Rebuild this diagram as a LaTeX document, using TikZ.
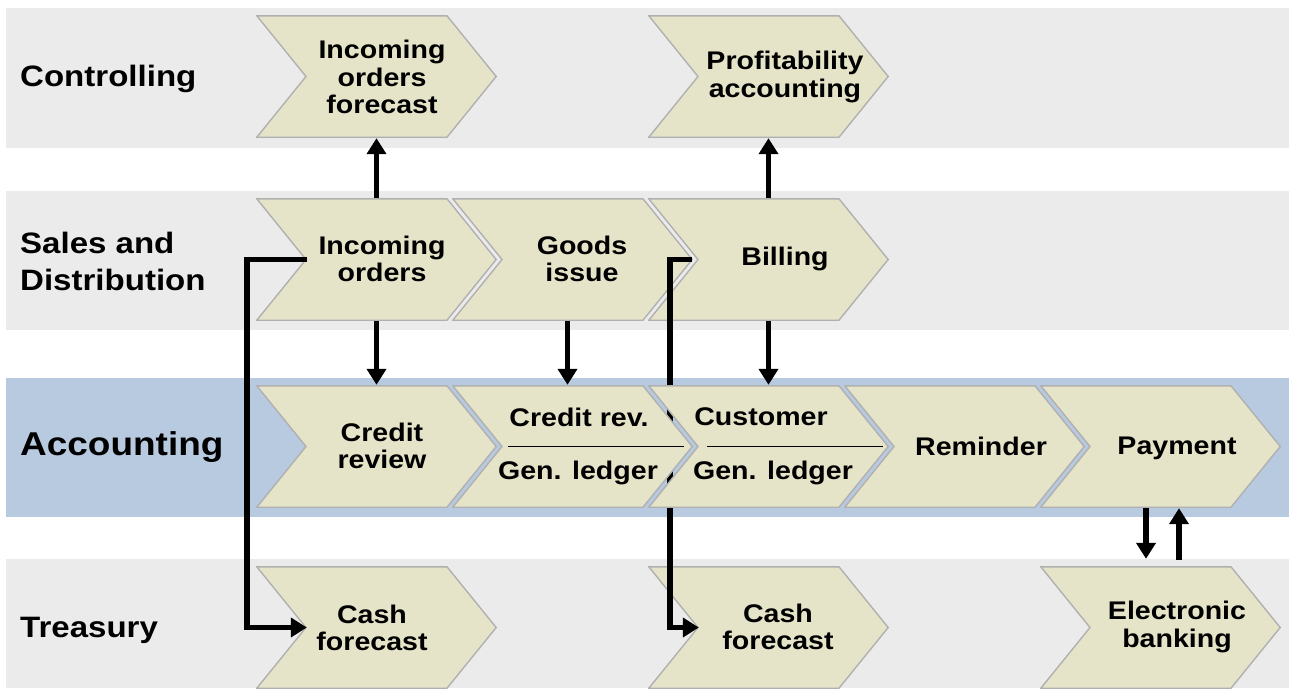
\documentclass[tikz,border=0pt]{standalone}
\usepackage{fontspec}
\setmainfont{Liberation Sans}[FakeStretch=1.12]
\usetikzlibrary{arrows.meta}
\definecolor{bandgray}{HTML}{EBEBEB}
\definecolor{bandblue}{HTML}{B8CADF}
\definecolor{chevfill}{HTML}{E6E4C8}
\definecolor{chevline}{HTML}{B0B0B0}
\tikzset{
  band/.style={fill=bandgray, draw=none},
  chev/.style={rectangle, inner sep=0pt, minimum width=241pt, minimum height=123pt,
    path picture={
      \path[fill=chevfill, draw=chevline, line width=1.4pt, line join=miter]
        ([shift={(0.8pt,-0.8pt)}]path picture bounding box.north west)
        -- ([shift={(-50pt,-0.8pt)}]path picture bounding box.north east)
        -- ([shift={(-0.8pt,0pt)}]path picture bounding box.east)
        -- ([shift={(-50pt,0.8pt)}]path picture bounding box.south east)
        -- ([shift={(0.8pt,0.8pt)}]path picture bounding box.south west)
        -- ([shift={(50pt,0pt)}]path picture bounding box.west) -- cycle;
    }},
  txt/.style={inner sep=0pt, align=center, font=\bfseries\fontsize{25.5}{27.5}\selectfont},
  lane/.style={inner sep=0pt, anchor=west, align=left, font=\bfseries\fontsize{29.5}{37}\selectfont},
  lanebig/.style={inner sep=0pt, anchor=west, align=left, font=\bfseries\fontsize{33}{37}\selectfont},
  arr/.style={line width=5.6pt, -{Triangle[length=16pt,width=19pt]}},
  sepline/.style={line width=1.8pt, black},
}
\begin{document}
\begin{tikzpicture}[x=1pt, y=-1pt]
\useasboundingbox (0,0) rectangle (1289,688);
% lanes
\fill[band] (6,8) rectangle (1289,148);
\fill[band] (6,191) rectangle (1289,330);
\fill[bandblue] (6,378) rectangle (1289,517);
\fill[band] (6,559) rectangle (1289,688);
\node[lane] (lctrl) at (20,79) {Controlling};
\node[lane] (lsd) at (20,261) {Sales and\\Distribution};
\node[lanebig] (lacc) at (20,447) {Accounting};
\node[lane] (ltr) at (20,630) {Treasury};
% controlling, sales, treasury chevrons
\node[chev] (iof) at (376.5,76.5) {};
\node[chev] (pa) at (768.5,76.5) {};
\node[chev] (io) at (376.5,259.5) {};
\node[chev] (gi) at (572.5,259.5) {};
\node[chev] (bil) at (768.5,259.5) {};
\node[chev] (cf1) at (376.5,627.5) {};
\node[chev] (cf2) at (768.5,627.5) {};
\node[chev] (eb) at (1160.5,627.5) {};
% long connectors (under accounting chevrons)
\draw[arr] ([xshift=51pt]io.west) -- ([xshift=-9pt]io.west) |- ([xshift=51pt]cf1.west);
\draw[arr] ([xshift=44pt]bil.west) -- ([xshift=22pt]bil.west) |- ([xshift=51pt]cf2.west);
% accounting chevrons
\node[chev] (cr) at (376.5,446.5) {};
\node[chev] (crg) at (572.5,446.5) {};
\node[chev] (cus) at (768.5,446.5) {};
\node[chev] (rem) at (964.5,446.5) {};
\node[chev] (pay) at (1160.5,446.5) {};
\draw[sepline] ([xshift=56pt]crg.west) -- ([xshift=-9pt]crg.east);
\draw[sepline] ([xshift=59pt]cus.west) -- ([xshift=-6pt]cus.east);
% vertical connectors
\draw[arr] (io.north) -- (iof.south);
\draw[arr] (bil.north) -- (pa.south);
\draw[arr] (io.south) -- (cr.north);
\draw[arr] ([xshift=-5pt]gi.south) -- ([xshift=-5pt]crg.north);
\draw[arr] (bil.south) -- (cus.north);
\draw[arr] ([xshift=-14.5pt]pay.south) -- ([xshift=-14.5pt,yshift=7pt]eb.north);
\draw[arr] ([xshift=18.5pt,yshift=6pt]eb.north) -- ([xshift=18.5pt]pay.south);
% texts
\node[txt] (t-iof) at (382,77) {Incoming\\orders\\forecast};
\node[txt] (t-pa) at (785,77) {Profitability\\accounting};
\node[txt] (t-io) at (382,259) {Incoming\\orders};
\node[txt] (t-gi) at (582,259) {Goods\\issue};
\node[txt] (t-bil) at (785,259) {Billing};
\node[txt] (t-cr) at (382,446) {Credit\\review};
\node[txt] (t-crg1) at (579,417) {Credit rev.};
\node[txt] (t-crg2) at (578,473) {Gen. ledger};
\node[txt] (t-cus1) at (761,417) {Customer};
\node[txt] (t-cus2) at (773,473) {Gen. ledger};
\node[txt] (t-rem) at (981,446) {Reminder};
\node[txt] (t-pay) at (1177,448) {Payment};
\node[txt] (t-cf1) at (372,628) {Cash\\forecast};
\node[txt] (t-cf2) at (778,627) {Cash\\forecast};
\node[txt] (t-eb) at (1177,627) {Electronic\\banking};
\end{tikzpicture}
\end{document}
